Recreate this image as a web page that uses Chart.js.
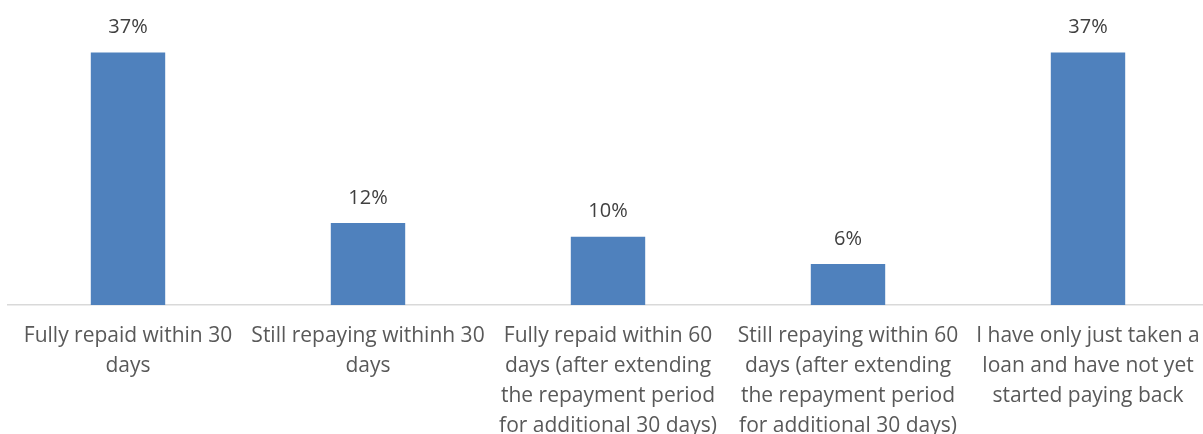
<!DOCTYPE html>
<html>
<head>
<meta charset="utf-8">
<script src="https://cdn.jsdelivr.net/npm/chart.js@4/dist/chart.umd.min.js"></script>
<style>
  html, body { margin: 0; padding: 0; background: #ffffff; overflow: hidden; }
  #wrap { width: 1208px; height: 434px; }
</style>
</head>
<body>
<div id="wrap"><canvas id="chart" width="1208" height="434"></canvas></div>
<script>
// Repayment status categories (each entry is a list of wrapped label lines)
const categories = [
  ["Fully repaid within 30", "days"],
  ["Still repaying withinh 30", "days"],
  ["Fully repaid within 60", "days (after extending", "the repayment period", "for additional 30 days)"],
  ["Still repaying within 60", "days (after extending", "the repayment period", "for additional 30 days)"],
  ["I have only just taken a", "loan and have not yet", "started paying back"]
];

// Share of respondents, percent
const shares = [37, 12, 10, 6, 37];

const FONT = '"Open Sans", "DejaVu Sans", sans-serif';

// Writes the percentage above each bar
const valueLabels = {
  id: 'valueLabels',
  afterDatasetsDraw(chart) {
    const ctx = chart.ctx;
    const meta = chart.getDatasetMeta(0);
    ctx.save();
    ctx.font = '20px ' + FONT;
    ctx.fillStyle = '#404040';
    ctx.textAlign = 'center';
    ctx.textBaseline = 'middle';
    meta.data.forEach((bar, i) => {
      ctx.fillText(shares[i] + '%', bar.x, bar.y - 25);
    });
    ctx.restore();
  }
};

new Chart(document.getElementById('chart'), {
  type: 'bar',
  data: {
    labels: categories,
    datasets: [{
      data: shares,
      backgroundColor: '#4f81bd',
      borderWidth: 0,
      barPercentage: 1,
      categoryPercentage: 0.31
    }]
  },
  options: {
    responsive: false,
    animation: false,
    layout: { padding: { left: 8, right: 0, top: 32, bottom: -7 } },
    plugins: { legend: { display: false }, tooltip: { enabled: false } },
    scales: {
      x: {
        // gap between axis line and labels comes from an invisible tick length
        grid: { display: false, drawTicks: true, tickLength: 16 },
        border: { display: true, color: '#d9d9d9', width: 1.5 },
        ticks: {
          color: '#595959',
          font: { family: FONT, size: 21, lineHeight: '30px' },
          padding: 0,
          maxRotation: 0,
          autoSkip: false
        }
      },
      y: {
        display: false,
        min: 0,
        max: 40
      }
    }
  },
  plugins: [valueLabels]
});
</script>
</body>
</html>
